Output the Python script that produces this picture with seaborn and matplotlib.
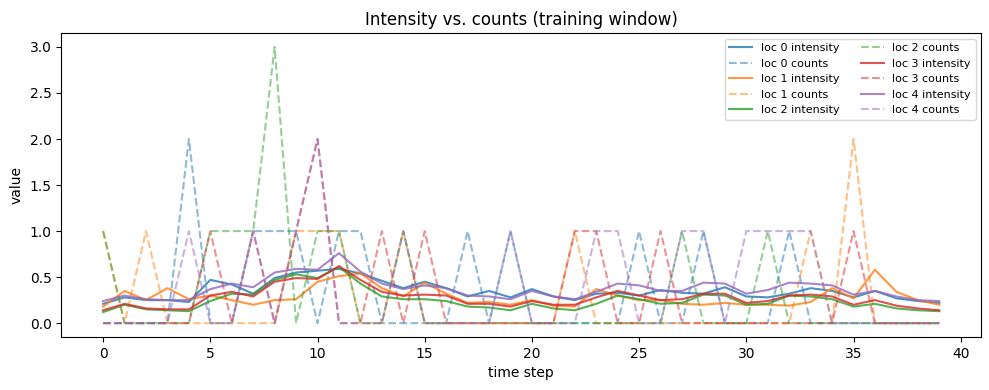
import numpy as np
import pandas as pd
import matplotlib
matplotlib.use("Agg")
import matplotlib.pyplot as plt
import seaborn as sns

time_steps = list(range(40))
locations = ["loc 0", "loc 1", "loc 2", "loc 3", "loc 4"]
palette = sns.color_palette("tab10", 5)

intensity_loc0 = [0.21, 0.28, 0.25, 0.25, 0.23, 0.47, 0.42, 0.32, 0.49, 0.55,
                  0.57, 0.59, 0.54, 0.46, 0.38, 0.45, 0.38, 0.29, 0.35, 0.28,
                  0.37, 0.29, 0.25, 0.32, 0.33, 0.30, 0.36, 0.33, 0.32, 0.39,
                  0.29, 0.28, 0.32, 0.38, 0.35, 0.28, 0.35, 0.27, 0.24, 0.22]
intensity_loc1 = [0.18, 0.35, 0.25, 0.38, 0.26, 0.30, 0.25, 0.20, 0.25, 0.26,
                  0.45, 0.51, 0.54, 0.38, 0.29, 0.44, 0.32, 0.22, 0.23, 0.20,
                  0.25, 0.19, 0.18, 0.37, 0.30, 0.25, 0.25, 0.21, 0.20, 0.22,
                  0.20, 0.20, 0.19, 0.23, 0.38, 0.27, 0.58, 0.34, 0.25, 0.20]
intensity_loc2 = [0.12, 0.20, 0.15, 0.14, 0.13, 0.24, 0.32, 0.31, 0.47, 0.53,
                  0.49, 0.61, 0.43, 0.29, 0.26, 0.26, 0.24, 0.18, 0.17, 0.14,
                  0.21, 0.16, 0.14, 0.21, 0.30, 0.26, 0.21, 0.22, 0.31, 0.30,
                  0.20, 0.21, 0.30, 0.29, 0.26, 0.18, 0.21, 0.16, 0.14, 0.13]
intensity_loc3 = [0.14, 0.21, 0.16, 0.15, 0.15, 0.30, 0.34, 0.29, 0.45, 0.49,
                  0.48, 0.62, 0.47, 0.34, 0.30, 0.31, 0.30, 0.21, 0.21, 0.18,
                  0.24, 0.20, 0.20, 0.28, 0.35, 0.30, 0.25, 0.26, 0.32, 0.32,
                  0.22, 0.24, 0.30, 0.31, 0.29, 0.20, 0.25, 0.19, 0.16, 0.14]
intensity_loc4 = [0.24, 0.30, 0.26, 0.25, 0.25, 0.37, 0.43, 0.39, 0.55, 0.59,
                  0.58, 0.76, 0.56, 0.43, 0.37, 0.41, 0.38, 0.30, 0.29, 0.26,
                  0.35, 0.29, 0.26, 0.34, 0.43, 0.41, 0.35, 0.35, 0.44, 0.43,
                  0.32, 0.36, 0.44, 0.43, 0.41, 0.31, 0.35, 0.29, 0.25, 0.24]

counts_loc0 = [0, 0, 0, 0, 2, 0, 0, 1, 1, 1, 0, 1, 1, 0, 0, 0, 0, 1, 0, 1,
               0, 0, 0, 0, 0, 1, 0, 0, 1, 0, 0, 0, 1, 0, 0, 0, 0, 0, 0, 0]
counts_loc1 = [1, 0, 1, 0, 0, 0, 0, 0, 0, 1, 1, 1, 0, 0, 1, 0, 0, 0, 0, 0,
               0, 0, 1, 0, 0, 0, 0, 0, 0, 0, 0, 0, 0, 1, 0, 2, 0, 0, 0, 0]
counts_loc2 = [1, 0, 0, 0, 0, 1, 1, 1, 3, 0, 1, 1, 0, 0, 1, 0, 0, 0, 0, 0,
               0, 0, 0, 0, 0, 0, 0, 1, 0, 0, 0, 1, 0, 0, 0, 0, 0, 0, 0, 0]
counts_loc3 = [0, 0, 0, 0, 0, 1, 0, 1, 0, 1, 2, 0, 0, 1, 0, 1, 0, 0, 0, 0,
               0, 0, 1, 1, 0, 0, 1, 0, 0, 0, 0, 0, 0, 0, 0, 1, 0, 0, 0, 0]
counts_loc4 = [0, 0, 0, 0, 1, 0, 0, 1, 0, 1, 2, 0, 0, 0, 1, 0, 0, 0, 0, 1,
               0, 0, 0, 1, 1, 0, 0, 1, 1, 0, 1, 1, 1, 1, 0, 0, 0, 0, 0, 0]

intensities = [intensity_loc0, intensity_loc1, intensity_loc2, intensity_loc3, intensity_loc4]
counts = [counts_loc0, counts_loc1, counts_loc2, counts_loc3, counts_loc4]

fig, ax = plt.subplots(figsize=(9.89, 3.9), dpi=100)

for name, color, inten, cnt in zip(locations, palette, intensities, counts):
    sns.lineplot(x=time_steps, y=inten, color=color, linewidth=1.5, alpha=0.8,
                 label=f"{name} intensity", ax=ax)
    sns.lineplot(x=time_steps, y=cnt, color=color, linewidth=1.5, alpha=0.5,
                 linestyle="--", label=f"{name} counts", ax=ax)

ax.set_title("Intensity vs. counts (training window)")
ax.set_xlabel("time step")
ax.set_ylabel("value")
ax.legend(loc="upper right", ncol=2, fontsize=8)

fig.subplots_adjust(left=0.062, right=0.992, top=0.915, bottom=0.136)
fig.savefig("out.png")
